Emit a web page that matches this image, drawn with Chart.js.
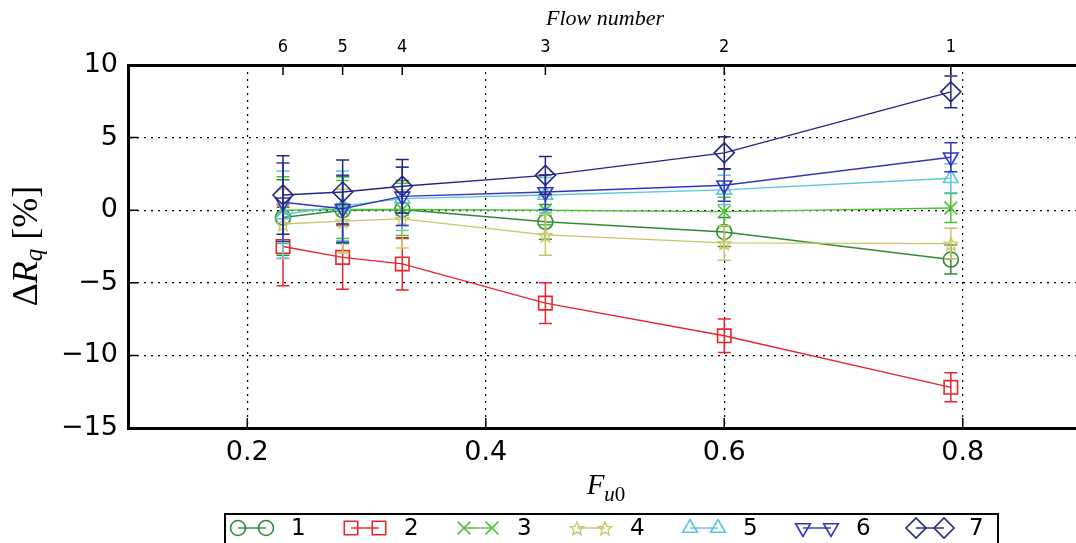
<!DOCTYPE html>
<html>
<head>
<meta charset="utf-8">
<script src="https://cdn.jsdelivr.net/npm/chart.js@4.4.1/dist/chart.umd.min.js"></script>
<style>
html, body { margin: 0; padding: 0; overflow: hidden; background: #fff; }
#wrap { width: 1082px; height: 543px; }
</style>
</head>
<body>
<div id="wrap"><canvas id="rqChart" width="1082" height="543"></canvas></div>
<script>
// F_u0 positions of the six flows and the flow number shown on the top axis
const fu0 = [0.23, 0.28, 0.33, 0.45, 0.60, 0.79];
const flowNumbers = ["6", "5", "4", "3", "2", "1"];
const xTicks = [0.2, 0.4, 0.6, 0.8];
const yTicks = [-15, -10, -5, 0, 5, 10];

const seriesNames = ["1", "2", "3", "4", "5", "6", "7"];

// delta R_q [%] per series
const dR1 = [-0.5, 0.0, 0.05, -0.8, -1.5, -3.4];
const dR2 = [-2.5, -3.25, -3.7, -6.4, -8.65, -12.2];
const dR3 = [0.0, 0.05, 0.05, 0.0, -0.1, 0.15];
const dR4 = [-0.95, -0.75, -0.6, -1.7, -2.25, -2.3];
const dR5 = [-0.3, 0.3, 0.8, 1.05, 1.4, 2.2];
const dR6 = [0.55, 0.1, 0.95, 1.25, 1.72, 3.65];
const dR7 = [1.05, 1.25, 1.65, 2.4, 3.95, 8.15];

// half-length of the error bars
const err1 = [2.6, 2.3, 2.0, 1.2, 1.0, 1.0];
const err2 = [2.7, 2.2, 1.8, 1.4, 1.15, 1.0];
const err3 = [2.3, 2.0, 1.8, 1.0, 1.0, 1.0];
const err4 = [2.4, 2.2, 2.0, 1.4, 1.2, 1.05];
const err5 = [3.0, 2.4, 2.2, 1.2, 1.0, 1.0];
const err6 = [2.7, 2.3, 2.0, 1.2, 1.1, 1.0];
const err7 = [2.7, 2.2, 1.85, 1.3, 1.1, 1.1];

const seriesVals = [dR1, dR2, dR3, dR4, dR5, dR6, dR7];
const seriesErr = [err1, err2, err3, err4, err5, err6, err7];

// look of each series
const seriesColors = ["#2e8b36", "#e8262f", "#4cc234", "#c9c66a", "#5cc6dc", "#3434c0", "#262680"];

function makeStar(color, r){ //hollow 5 point star, used as a point style
	const s = Math.ceil(r * 2 + 4);
	const c = document.createElement("canvas");
	c.width = s; c.height = s;
	const g = c.getContext("2d");
	g.strokeStyle = color;
	g.lineWidth = 1.4;
	g.beginPath();
	for (let k = 0; k < 10; k++){
		const rr = k % 2 === 0 ? r : r * 0.45;
		const a = -Math.PI / 2 + k * Math.PI / 5;
		const px = s / 2 + rr * Math.cos(a), py = s / 2 + 1 + rr * Math.sin(a);
		if (k === 0) g.moveTo(px, py); else g.lineTo(px, py);
	}
	g.closePath();
	g.stroke();
	return c;
}

const pointStyles = ["circle", "rect", "crossRot", makeStar(seriesColors[3], 7), "triangle", "triangle", "rectRot"];
const pointRadii = [7.5, 9.5, 9, 7, 8.5, 8.5, 10];
const pointRots = [0, 0, 0, 0, 0, 180, 0];

const datasets = seriesVals.map((vals, i) => ({
	label: seriesNames[i],
	data: fu0.map((x, j) => ({x: x, y: vals[j]})),
	borderColor: seriesColors[i],
	backgroundColor: seriesColors[i],
	borderWidth: 1.4,
	pointStyle: pointStyles[i],
	pointRadius: pointRadii[i],
	pointRotation: pointRots[i],
	pointBackgroundColor: "rgba(0,0,0,0)",
	pointBorderColor: seriesColors[i],
	pointBorderWidth: 1.6,
	tension: 0,
	order: seriesNames.length - i, //later series on top, like matplotlib
	clip: false
}));

// error bars, drawn just before each line so the stacking matches
const errorBars = {
	id: "errorBars",
	beforeDatasetDraw(chart, args){
		const i = args.index;
		const {ctx} = chart;
		const xs = chart.scales.x, ys = chart.scales.y;
		ctx.save();
		ctx.strokeStyle = seriesColors[i];
		ctx.lineWidth = 1.5;
		seriesVals[i].forEach((v, j) => {
			const px = xs.getPixelForValue(fu0[j]);
			const top = ys.getPixelForValue(v + seriesErr[i][j]);
			const bot = ys.getPixelForValue(v - seriesErr[i][j]);
			ctx.beginPath();
			ctx.moveTo(px, top); ctx.lineTo(px, bot);
			ctx.moveTo(px - 6.5, top); ctx.lineTo(px + 6.5, top);
			ctx.moveTo(px - 6.5, bot); ctx.lineTo(px + 6.5, bot);
			ctx.stroke();
		});
		ctx.restore();
	}
};

// inward tick marks, axis titles with subscripts, and the boxed legend
const decorations = {
	id: "decorations",
	afterDraw(chart){
		const {ctx, chartArea: a} = chart;
		const xs = chart.scales.x, ys = chart.scales.y, x2 = chart.scales.x2;
		ctx.save();
		ctx.strokeStyle = "#000";
		ctx.lineWidth = 1.5;
		ctx.beginPath();
		xTicks.forEach(v => { const p = xs.getPixelForValue(v); ctx.moveTo(p, a.bottom); ctx.lineTo(p, a.bottom - 10); });
		fu0.forEach(v => { const p = x2.getPixelForValue(v); ctx.moveTo(p, a.top); ctx.lineTo(p, a.top + 10); });
		yTicks.forEach(v => { const p = ys.getPixelForValue(v); ctx.moveTo(a.left, p); ctx.lineTo(a.left + 10, p); });
		ctx.stroke();

		ctx.fillStyle = "#000";
		ctx.textBaseline = "alphabetic";
		// y title: Delta R_q [%]
		const yParts = [
			{t: "\u0394", f: "36px 'Liberation Serif'", dy: 0},
			{t: "R", f: "italic 36px 'Liberation Serif'", dy: 0},
			{t: "q", f: "italic 25px 'Liberation Serif'", dy: 5},
			{t: " [%]", f: "36px 'Liberation Serif'", dy: 0}
		];
		ctx.save();
		ctx.translate(37, 246);
		ctx.rotate(-Math.PI / 2);
		let tot = 0;
		yParts.forEach(p => { ctx.font = p.f; p.w = ctx.measureText(p.t).width; tot += p.w; });
		let cx = -tot / 2;
		yParts.forEach(p => { ctx.font = p.f; ctx.fillText(p.t, cx, p.dy); cx += p.w; });
		ctx.restore();

		// x title: F_u0
		const xParts = [
			{t: "F", f: "italic 29px 'Liberation Serif'", dy: 0},
			{t: "u", f: "italic 21px 'Liberation Serif'", dy: 7},
			{t: "0", f: "21px 'Liberation Serif'", dy: 7}
		];
		tot = 0;
		xParts.forEach(p => { ctx.font = p.f; p.w = ctx.measureText(p.t).width; tot += p.w; });
		cx = 606 - tot / 2;
		xParts.forEach(p => { ctx.font = p.f; ctx.fillText(p.t, cx, 494 + p.dy); cx += p.w; });

		// legend box
		ctx.strokeStyle = "#000";
		ctx.lineWidth = 2;
		ctx.strokeRect(225, 514, 773, 40);
		const ly = 528;
		seriesNames.forEach((name, i) => {
			const x0 = 238 + i * 113, x1 = 266 + i * 113;
			ctx.strokeStyle = seriesColors[i];
			ctx.fillStyle = "rgba(0,0,0,0)";
			ctx.lineWidth = 1.4;
			ctx.beginPath(); ctx.moveTo(x0, ly); ctx.lineTo(x1, ly); ctx.stroke();
			ctx.lineWidth = 1.6;
			const opts = {pointStyle: pointStyles[i], radius: pointRadii[i], rotation: pointRots[i], borderWidth: 1.6};
			Chart.helpers.drawPoint(ctx, opts, x0, ly);
			Chart.helpers.drawPoint(ctx, opts, x1, ly);
			ctx.fillStyle = "#000";
			ctx.font = "23px 'DejaVu Sans'";
			ctx.textBaseline = "middle";
			ctx.fillText(name, 291 + i * 113, ly + 1);
		});
		ctx.restore();
	}
};

const tickFont = {family: "'DejaVu Sans'", size: 27};

function noPad(s){ //stop the library from shrinking the plot for overhanging labels
	s.paddingLeft = 0; s.paddingRight = 0; s.paddingTop = 0; s.paddingBottom = 0;
}

new Chart("rqChart", {
	type: "line",
	data: {datasets: datasets},
	options: {
		responsive: false,
		animation: false,
		devicePixelRatio: 1,
		layout: {padding: 0, autoPadding: false},
		plugins: {legend: {display: false}, tooltip: {enabled: false}},
		scales: {
			x: {
				type: "linear", position: "bottom", min: 0.1, max: 0.9,
				afterBuildTicks: s => { s.ticks = xTicks.map(v => ({value: v})); },
				afterFit: s => { s.height = 115; noPad(s); },
				ticks: {callback: v => v.toFixed(1), font: tickFont, color: "#000", padding: 9, maxRotation: 0, autoSkip: false},
				grid: {color: "#000", lineWidth: 1.2, drawTicks: false},
				border: {display: true, color: "#000", width: 3, dash: [2, 5]}
			},
			x2: {
				type: "linear", position: "top", min: 0.1, max: 0.9,
				afterBuildTicks: s => { s.ticks = fu0.map(v => ({value: v})); },
				afterFit: s => { s.height = 65; noPad(s); },
				ticks: {callback: (v, idx) => flowNumbers[idx], font: {family: "'DejaVu Sans Condensed', 'DejaVu Sans'", size: 18}, color: "#000", padding: 7, maxRotation: 0, autoSkip: false},
				grid: {display: true, drawOnChartArea: false, drawTicks: false},
				border: {display: true, color: "#000", width: 3},
				title: {display: true, text: "Flow number", color: "#000", font: {family: "'Liberation Serif'", style: "italic", size: 22}, padding: {top: 6, bottom: 0}}
			},
			y: {
				type: "linear", position: "left", min: -15, max: 10,
				afterBuildTicks: s => { s.ticks = yTicks.map(v => ({value: v})); },
				afterFit: s => { s.width = 128; noPad(s); },
				ticks: {callback: v => v < 0 ? "\u2212" + Math.abs(v) : String(v), font: tickFont, color: "#000", padding: 10},
				grid: {color: "#000", lineWidth: 1.2, drawTicks: false},
				border: {display: true, color: "#000", width: 3, dash: [2, 5]}
			}
		}
	},
	plugins: [errorBars, decorations]
});
</script>
</body>
</html>
